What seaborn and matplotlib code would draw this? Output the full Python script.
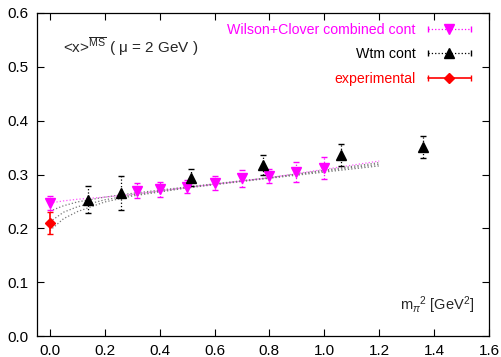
import numpy as np
import pandas as pd
import matplotlib
matplotlib.use('Agg')
import matplotlib.pyplot as plt
from matplotlib.lines import Line2D
from matplotlib.legend_handler import HandlerLine2D
import seaborn as sns

# Wilson+Clover combined continuum points
wc_x = [0.0, 0.316, 0.40, 0.498, 0.60, 0.70, 0.80, 0.898, 1.0]
wc_y = [0.247, 0.270, 0.273, 0.277, 0.284, 0.293, 0.297, 0.305, 0.312]
wc_err = [0.013, 0.014, 0.014, 0.012, 0.013, 0.016, 0.013, 0.018, 0.020]

# twisted mass continuum points
wtm_x = [0.138, 0.258, 0.513, 0.778, 1.062, 1.36]
wtm_y = [0.253, 0.266, 0.294, 0.318, 0.336, 0.351]
wtm_err = [0.025, 0.032, 0.016, 0.018, 0.020, 0.020]

# experimental value
exp_x = [0.0]
exp_y = [0.210]
exp_err = [0.020]

# fit curves
fit_x = [0.0, 0.05, 0.1, 0.2, 0.3, 0.5, 0.8, 1.2]
fit_wc = [0.247, 0.251, 0.254, 0.258, 0.263, 0.276, 0.294, 0.325]
fit_wtm_hi = [0.232, 0.242, 0.249, 0.258, 0.265, 0.277, 0.294, 0.322]
fit_wtm_mid = [0.212, 0.230, 0.240, 0.253, 0.262, 0.276, 0.294, 0.319]
fit_wtm_lo = [0.196, 0.218, 0.231, 0.249, 0.260, 0.275, 0.293, 0.316]

sns.set_style('ticks')
plt.rcParams['font.family'] = ['Liberation Sans', 'DejaVu Sans']
plt.rcParams['mathtext.fontset'] = 'custom'
plt.rcParams['mathtext.rm'] = 'Liberation Sans'
plt.rcParams['mathtext.it'] = 'Liberation Sans:italic'

fig = plt.figure(figsize=(5.02, 3.57), dpi=100)
ax = fig.add_axes([0.0737, 0.0588, 0.9003, 0.9048])

# fit curves
fits = pd.DataFrame({'x': fit_x, 'wc': fit_wc, 'hi': fit_wtm_hi,
                     'mid': fit_wtm_mid, 'lo': fit_wtm_lo})
sns.lineplot(data=fits, x='x', y='wc', ax=ax, color='#ff55ff', lw=0.9, ls=':')
for col in ['hi', 'mid', 'lo']:
    sns.lineplot(data=fits, x='x', y=col, ax=ax, color='#777777', lw=0.9, ls=':')

# data with error bars
eb = ax.errorbar(wc_x, wc_y, yerr=wc_err, fmt='v', color='magenta', ms=7,
                 capsize=2.5, elinewidth=0.9, zorder=4)
eb[2][0].set_linestyle(':')
eb = ax.errorbar(wtm_x, wtm_y, yerr=wtm_err, fmt='^', color='black', ms=7,
                 capsize=2.5, elinewidth=0.9, zorder=4)
eb[2][0].set_linestyle(':')
ax.errorbar(exp_x, exp_y, yerr=exp_err, fmt='D', color='red', ms=5,
            capsize=2.5, elinewidth=1.2, zorder=5)

ax.set_xlim(-0.047, 1.6)
ax.set_ylim(0.0, 0.6)
ax.set_xticks(np.arange(0, 1.61, 0.2))
ax.set_yticks(np.arange(0, 0.61, 0.1))
ax.set_xticklabels([f'{t:.1f}' for t in np.arange(0, 1.61, 0.2)])
ax.set_yticklabels([f'{t:.1f}' for t in np.arange(0, 0.61, 0.1)])
ax.tick_params(direction='in', length=5, width=0.8, top=True, right=True,
               labelsize=11, colors='black', pad=6)
for s in ax.spines.values():
    s.set_linewidth(0.9)
    s.set_color('black')
ax.set_xlabel('')
ax.set_ylabel('')

ax.text(0.058, 0.895, r'<x>$^{\overline{\rm MS}}$ ( μ = 2 GeV )',
        transform=ax.transAxes, fontsize=11, va='center', ha='left')
ax.text(0.969, 0.096, r'm$_\pi$$^2$ [GeV$^2$]', transform=ax.transAxes,
        fontsize=10.5, va='center', ha='right')

# gnuplot style key
h_wc = (Line2D([], [], color='magenta', ls=':', lw=0.9, marker='|', ms=4),
        Line2D([], [], color='magenta', ls='none', marker='v', ms=7))
h_wtm = (Line2D([], [], color='black', ls=':', lw=0.9, marker='|', ms=4),
         Line2D([], [], color='black', ls='none', marker='^', ms=7))
h_exp = (Line2D([], [], color='red', ls='-', lw=1.2, marker='|', ms=4),
         Line2D([], [], color='red', ls='none', marker='D', ms=5))
hmap = {h[0]: HandlerLine2D(numpoints=2) for h in [h_wc, h_wtm, h_exp]}
leg = ax.legend([h_wc, h_wtm, h_exp],
                ['Wilson+Clover combined cont', 'Wtm cont', 'experimental'],
                handler_map=hmap, loc='upper right', frameon=False,
                markerfirst=False, labelcolor=['magenta', 'black', 'red'],
                fontsize=10.2, handlelength=3.6, labelspacing=0.75,
                bbox_to_anchor=(0.997, 1.01), handletextpad=0.6)

fig.savefig('out.png', dpi=100)
